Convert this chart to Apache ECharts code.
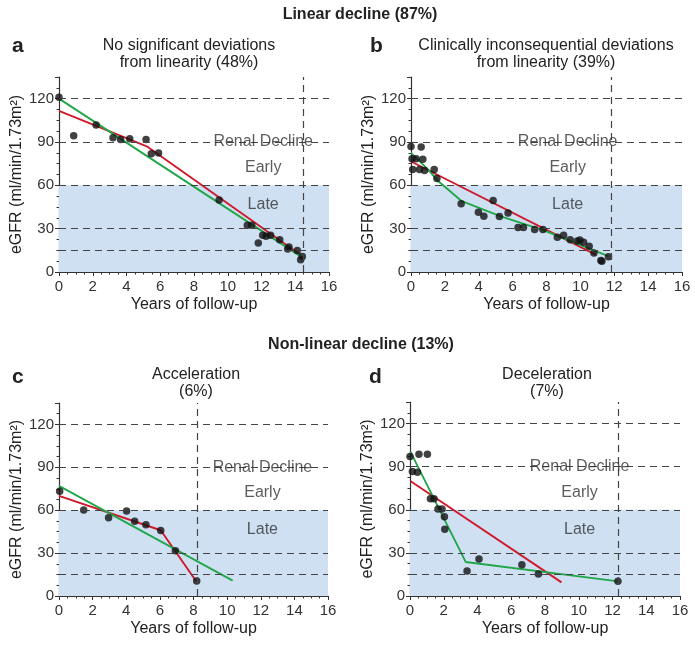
<!DOCTYPE html>
<html><head><meta charset="utf-8">
<script src="https://cdn.jsdelivr.net/npm/echarts@6/dist/echarts.min.js"></script>
<style>html,body{margin:0;padding:0;background:#fff}#c{width:695px;height:647px}</style>
</head><body><div id="c"></div>
<script>
// ---- data ----
const xTicks = [0, 2, 4, 6, 8, 10, 12, 14, 16];
const yTicks = [0, 30, 60, 90, 120];
const refLines = [120, 90, 60, 30, 15];
const lateBand = [0, 60];

const aPoints = [[0,121],[0.87,94.3],[2.2,101.7],[3.2,93],[3.65,91.8],[4.19,92.3],[5.16,91.8],[5.47,81.8],[5.9,82.3],[9.49,49.9],[11.16,32.3],[11.42,32.3],[11.81,20.1],[12.07,25.4],[12.27,24.7],[12.54,25.4],[13.08,22.4],[13.55,16],[13.63,17.3],[14.12,14.8],[14.32,8.5],[14.42,10.8]];
const aRed = [[0,111.5],[5.2,87],[14.3,12]];
const aGreen = [[0,120],[14.3,11]];
const aVline = 14.5;

const bPoints = [[0,86.9],[0.06,78.4],[0.1,71],[0.3,78.4],[0.5,71],[0.6,86.5],[0.7,78],[0.8,70.3],[1.37,71],[1.53,64.7],[2.96,47.2],[3.98,41.4],[4.3,38.6],[4.85,49.5],[5.22,38.4],[5.73,40.9],[6.32,30.8],[6.64,30.8],[7.3,29.4],[7.79,29.4],[8.64,24],[9.01,25.4],[9.4,22.4],[9.82,21.5],[9.97,22.2],[10.19,20.6],[10.52,17.8],[10.8,13.2],[11.21,7.9],[11.27,7.4],[11.66,10.6]];
const bRed = [[0,76.5],[10.9,12]];
const bGreen = [[0,82.5],[1.0,71],[1.6,63],[3.0,49],[5.3,38.5],[7.8,29],[11.65,11]];
const bVline = 11.8;

const cPoints = [[0.04,73.2],[1.47,60.1],[2.95,54.8],[4.02,59.4],[4.5,52.2],[5.17,49.9],[6.05,45.9],[6.92,31.7],[8.19,10.5]];
const cRed = [[0,70],[6.05,46],[8.15,10.5]];
const cGreen = [[0,77],[10.33,10.7]];
const cVline = 8.2;

const dPoints = [[0,97],[0.53,98.7],[1.03,98.7],[0.14,86.6],[0.44,86.2],[1.21,67.6],[1.42,67.6],[1.66,60.6],[1.9,60.6],[2.04,55.2],[2.06,46.4],[3.38,17.4],[4.09,25.8],[6.63,21.8],[7.61,15.3],[12.32,10.2]];
const dRed = [[0.04,79.9],[8.98,9.5]];
const dGreen = [[0.02,100.5],[3.3,23.7],[12.34,10.2]];
const dVline = 12.35;

const zoneLabels = ['Renal Decline', 'Early', 'Late'];
const zoneY = [90, 72, 46.5];

// ---- layout ----
const FONT = '"Liberation Sans", Arial, sans-serif';
const panels = [
  {pts:aPoints, red:aRed, green:aGreen, v:aVline, grid:{left:59, top:77, width:270, height:195}, zx:12.1},
  {pts:bPoints, red:bRed, green:bGreen, v:bVline, grid:{left:411, top:77, width:271, height:195}, zx:9.25},
  {pts:cPoints, red:cRed, green:cGreen, v:cVline, grid:{left:59, top:403, width:269, height:193}, zx:12.1},
  {pts:dPoints, red:dRed, green:dGreen, v:dVline, grid:{left:410, top:402, width:270, height:194}, zx:10.05}
];

const grids=[], xAxes=[], yAxes=[], series=[];
const dash = {color:'#444', width:1.2, type:[7,5]};
panels.forEach((p,i)=>{
  grids.push(Object.assign({containLabel:false}, p.grid));
  xAxes.push({gridIndex:i, type:'value', min:xTicks[0], max:xTicks[xTicks.length-1], interval:2,
    splitLine:{show:false},
    axisLine:{onZero:false, lineStyle:{color:'#333', width:1.2}},
    axisTick:{length:4, lineStyle:{color:'#333'}},
    minorTick:{show:true, splitNumber:4, length:2.5, lineStyle:{color:'#333'}},
    axisLabel:{color:'#333', fontSize:15, fontFamily:FONT, margin:7},
    name:'Years of follow-up', nameLocation:'middle', nameGap:25,
    nameTextStyle:{color:'#222', fontSize:16, fontFamily:FONT}
  });
  yAxes.push({gridIndex:i, type:'value', min:0, max:135, interval:30,
    splitLine:{show:false},
    axisLine:{show:true, onZero:false, lineStyle:{color:'#333', width:1.2}},
    axisTick:{show:true, length:4, lineStyle:{color:'#333'}},
    minorTick:{show:true, splitNumber:4, length:2.5, lineStyle:{color:'#333'}},
    axisLabel:{color:'#333', fontSize:15, fontFamily:FONT, margin:5,
      formatter:v=> yTicks.indexOf(v)>=0 ? String(v) : ''},
    name:'eGFR (ml/min/1.73m²)', nameLocation:'middle', nameGap:34,
    nameTextStyle:{color:'#222', fontSize:16, fontFamily:FONT}
  });
  // band + reference lines
  series.push({type:'line', xAxisIndex:i, yAxisIndex:i, data:[], silent:true, symbol:'none',
    markArea:{silent:true, itemStyle:{color:'#cfe0f3'}, data:[[{xAxis:xTicks[0], yAxis:lateBand[0]},{xAxis:xTicks[xTicks.length-1], yAxis:lateBand[1]}]]},
    markLine:{silent:true, symbol:'none', label:{show:false}, lineStyle:dash, animation:false,
      data: refLines.map(v=>({yAxis:v})).concat([{xAxis:p.v}])}
  });
  series.push({type:'line', xAxisIndex:i, yAxisIndex:i, data:p.red, symbol:'none', z:3,
    lineStyle:{color:'#d01a2c', width:1.9}, animation:false});
  series.push({type:'line', xAxisIndex:i, yAxisIndex:i, data:p.green, symbol:'none', z:3,
    lineStyle:{color:'#22a64a', width:1.9}, animation:false});
  series.push({type:'scatter', xAxisIndex:i, yAxisIndex:i, data:p.pts, symbolSize:7.5, z:4,
    itemStyle:{color:'#111'}, animation:false});
  series.push({type:'scatter', xAxisIndex:i, yAxisIndex:i, symbolSize:0, z:5, silent:true, animation:false,
    data: zoneLabels.map((t,k)=>({value:[p.zx, zoneY[k]], name:t})),
    label:{show:true, position:'inside', formatter:q=>q.name, color:'#333', fontSize:16, fontFamily:FONT}
  });
});

function txt(x,y,s,size,bold,align){
  return {type:'text', x:x, y:y, style:{text:s, x:0, y:0, fill:'#222', font:(bold?'bold ':'')+size+'px '+FONT, textAlign:align||'center', textVerticalAlign:'middle'}};
}
const graphics = [
  txt(360,15,'Linear decline (87%)',16,true),
  txt(12,46,'a',21,true,'left'),
  txt(189,46,'No significant deviations',16,false),
  txt(189,63,'from linearity (48%)',16,false),
  txt(370,46,'b',21,true,'left'),
  txt(546,46,'Clinically inconsequential deviations',16,false),
  txt(546,63,'from linearity (39%)',16,false),
  txt(361,345,'Non-linear decline (13%)',16,true),
  txt(12,377,'c',21,true,'left'),
  txt(196,375,'Acceleration',16,false),
  txt(196,392,'(6%)',16,false),
  txt(369,377,'d',21,true,'left'),
  txt(547,375,'Deceleration',16,false),
  txt(547,392,'(7%)',16,false)
];

const chart = echarts.init(document.getElementById('c'), null, {renderer:'canvas'});
chart.setOption({animation:false, grid:grids, xAxis:xAxes, yAxis:yAxes, series:series, graphic:graphics});
</script></body></html>
